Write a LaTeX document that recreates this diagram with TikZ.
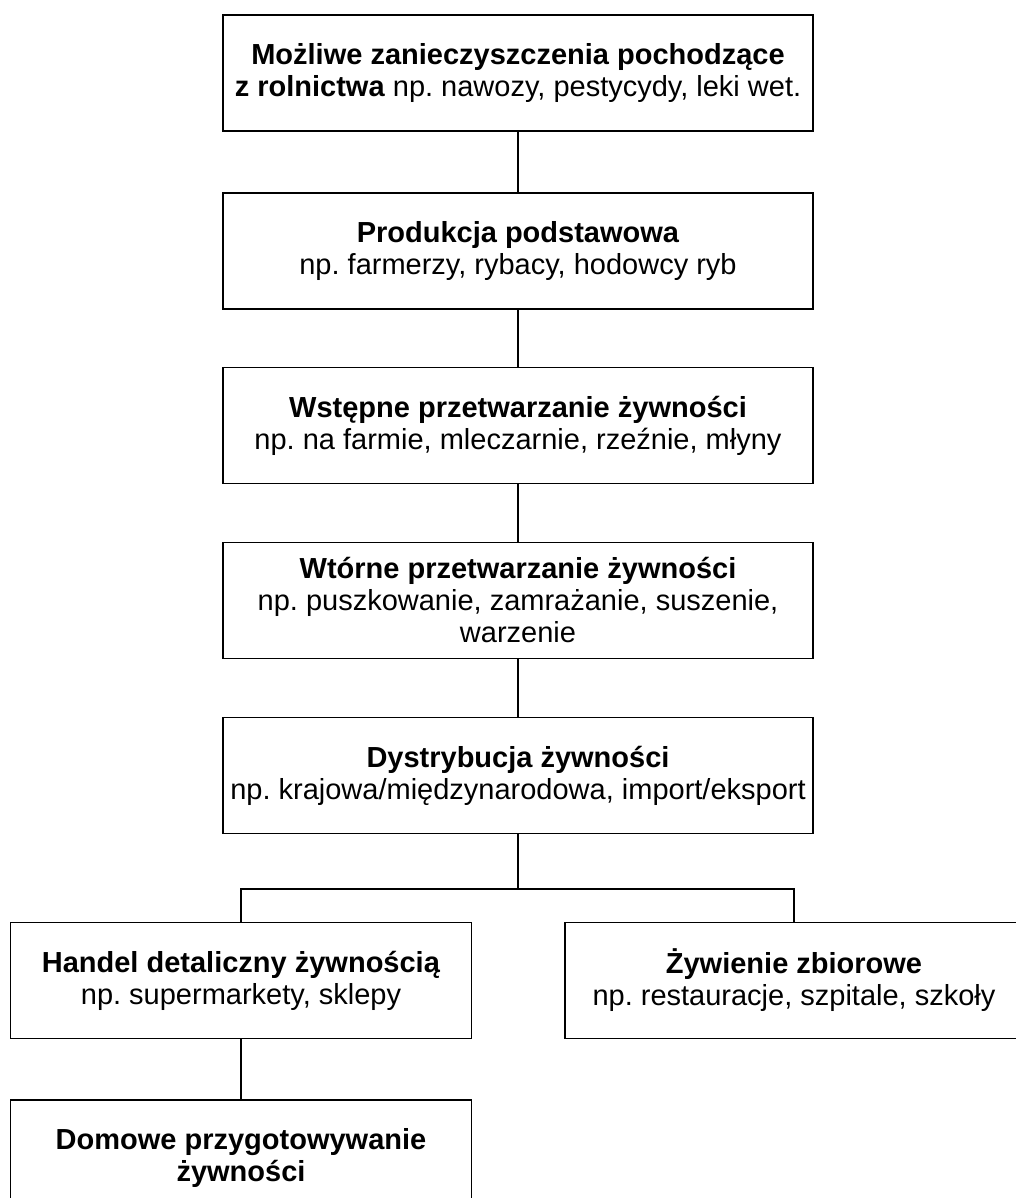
\documentclass[tikz,border=0pt]{standalone}
\usepackage{fontspec}
\setmainfont{Liberation Sans}
\usepackage{tikz}
\frenchspacing
\tikzstyle{stage}=[draw,line width=1.6pt,align=center,minimum height=116pt,inner sep=0pt,font=\fontsize{29}{32}\selectfont]
\tikzstyle{link} = [draw,line width=1.4pt,-]

\begin{document}
\begin{tikzpicture}[x=1pt,y=-1pt]
    \useasboundingbox (0,0) rectangle (1015,1198);
    % Food chain from the farm to the kitchen
    % First we draw the stages
    \foreach \pos/\name/\boxw/\txt in {
        {(518,73)/farm/590/{\textbf{Możliwe zanieczyszczenia pochodzące}\\\textbf{z rolnictwa} np. nawozy, pestycydy, leki wet.}},
        {(518,251)/primary/590/{\textbf{Produkcja podstawowa}\\np. farmerzy, rybacy, hodowcy ryb}},
        {(518,425.5)/firstproc/590/{\textbf{Wstępne przetwarzanie żywności}\\np. na farmie, mleczarnie, rzeźnie, młyny}},
        {(518,600.5)/secondproc/590/{\textbf{Wtórne przetwarzanie żywności}\\np. puszkowanie, zamrażanie, suszenie,\\warzenie}},
        {(518,775.5)/distrib/590/{\textbf{Dystrybucja żywności}\\np. krajowa/międzynarodowa, import/eksport}},
        {(241,980.5)/retail/461/{\textbf{Handel detaliczny żywnością}\\np. supermarkety, sklepy}},
        {(794,980.5)/catering/458/{\textbf{Żywienie zbiorowe}\\np. restauracje, szpitale, szkoły}},
        {(241,1158)/home/461/{\textbf{Domowe przygotowywanie}\\\textbf{żywności}}}}
        \node[stage,minimum width=\boxw pt] (\name) at \pos {\txt};

    % Connect the stages
    \foreach \source/ \dest in {farm/primary, primary/firstproc, firstproc/secondproc, secondproc/distrib, retail/home}
        \path[link] (\source) -- (\dest) ;

    % Split below the distribution
    \coordinate (split) at (518,889);
    \path[link] (distrib) -- (split);
    \path[link] (split) -| (retail.north);
    \path[link] (split) -| (catering.north);

\end{tikzpicture}
\end{document}
